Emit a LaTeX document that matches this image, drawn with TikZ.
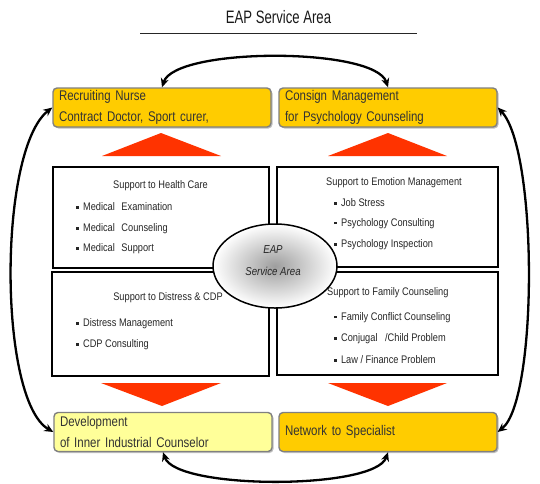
\documentclass[tikz,border=0pt]{standalone}
\usepackage{fontspec}
\setmainfont{Liberation Sans}
\newfontfamily\fntA{Liberation Sans}[FakeStretch=0.82]
\newfontfamily\fntB{Liberation Sans}[FakeStretch=0.84]
\newfontfamily\fntT{Liberation Sans}[FakeStretch=0.73]
\usetikzlibrary{shapes.geometric,shadows,arrows.meta}
\definecolor{ygold}{HTML}{FFCC00}
\definecolor{ylight}{HTML}{FFFF99}
\definecolor{tri}{HTML}{FF3300}
\newcommand{\bul}{\rule[2.2pt]{2.4pt}{2.4pt}\hspace{4.5pt}}
\begin{document}
\begin{tikzpicture}[x=1pt,y=-1pt,
  ybox/.style={draw=black!50, line width=1.4pt, rounded corners=4pt, fill=#1,
    minimum width=218pt, minimum height=39pt, text width=206pt, align=left,
    inner xsep=6pt, inner ysep=0pt, font=\fntA\fontsize{14}{20.5}\selectfont, text=black!80,
    drop shadow={shadow xshift=1.5pt, shadow yshift=-1.5pt, opacity=0.25, fill=black}},
  ibox/.style={draw=black, line width=#1, minimum height=0pt, inner sep=0pt},
  ttl/.style={font=\fntB\fontsize{11}{13}\selectfont, text=black!85, inner sep=0pt},
  item/.style={font=\fntB\fontsize{11}{13}\selectfont, text=black!85, inner sep=0pt, anchor=west},
  arc/.style={line width=2.3pt, {Stealth[length=9pt,width=8pt]}-{Stealth[length=9pt,width=8pt]}},
  tri/.style={fill=tri}
]
\useasboundingbox (0,0) rectangle (540,483);

% title
\node[font=\fntT\fontsize{18}{20}\selectfont, text=black!90] (title) at (278.5,17) {EAP Service Area};
\coordinate (ulL) at (140,33);
\coordinate (ulR) at (417,33);
\draw[line width=0.9pt, black!85] (ulL) -- (ulR);

% yellow boxes
\node[ybox=ygold] (rec) at (162,107.5) {Recruiting Nurse\\Contract Doctor, Sport curer,};
\node[ybox=ygold] (con) at (388,107.5) {Consign Management\\for Psychology Counseling};
\node[ybox=ylight] (dev) at (163,432) {Development\\of Inner Industrial Counselor};
\node[ybox=ygold] (net) at (388,432) {Network to Specialist};

% triangles
\fill[tri] (102,156) -- (221,156) -- (161,133) -- cycle;
\fill[tri] (328,156) -- (447,156) -- (388,133) -- cycle;
\fill[tri] (101,383) -- (221,383) -- (162,406) -- cycle;
\fill[tri] (328,383) -- (447,383) -- (388,406) -- cycle;

% inner boxes
\node[ibox=1.6pt, minimum width=216pt, minimum height=101pt] (hc) at (161,217.5) {};
\node[ibox=2.2pt, minimum width=217pt, minimum height=104pt] (ds) at (160.5,324) {};
\node[ibox=1.6pt, minimum width=221pt, minimum height=100pt] (em) at (387.5,217) {};
\node[ibox=2.2pt, minimum width=221pt, minimum height=103pt] (fc) at (387.5,323.5) {};

% health care
\node[ttl] (hcT) at (160.5,186) {Support to Health Care};
\node[item] (hc1) at (76,207) {\bul Medical\hspace{4pt} Examination};
\node[item] (hc2) at (76,229) {\bul Medical\hspace{4pt} Counseling};
\node[item] (hc3) at (76,249) {\bul Medical\hspace{4pt} Support};
% distress
\node[ttl] (dsT) at (168,298) {Support to Distress \& CDP};
\node[item] (ds1) at (76,324) {\bul Distress Management};
\node[item] (ds2) at (76,345) {\bul CDP Consulting};
% emotion
\node[ttl, anchor=west] (emT) at (326,183) {Support to Emotion Management};
\node[item] (em1) at (334,203) {\bul Job Stress};
\node[item] (em2) at (334,223.5) {\bul Psychology Consulting};
\node[item] (em3) at (334,245) {\bul Psychology Inspection};
% family
\node[ttl, anchor=west] (fcT) at (327,293) {Support to Family Counseling};
\node[item] (fc1) at (334,317.5) {\bul Family Conflict Counseling};
\node[item] (fc2) at (334,339) {\bul Conjugal\hspace{5pt} /Child Problem};
\node[item] (fc3) at (334,360) {\bul Law / Finance Problem};

% center ellipse
\node[ellipse, draw=black, line width=1.5pt, minimum width=124pt, minimum height=84pt,
  inner color=black!38, outer color=white] (eap) at (275,266) {};
\node[font=\fntB\itshape\fontsize{11.5}{22}\selectfont, text=black!85, align=center, inner sep=0pt] (eapT) at (273,261) {EAP\\Service Area};

% connectors
\draw[arc] (rec.north) .. controls (175,47) and (375,47) .. (con.north);
\draw[arc] (dev.south) .. controls (176,490) and (375,490) .. (net.south);
\draw[arc] (dev.west) .. controls (-2,400) and (-2,150) .. (rec.west);
\draw[arc] (net.east) .. controls (538,400) and (538,150) .. (con.east);
\end{tikzpicture}
\end{document}
